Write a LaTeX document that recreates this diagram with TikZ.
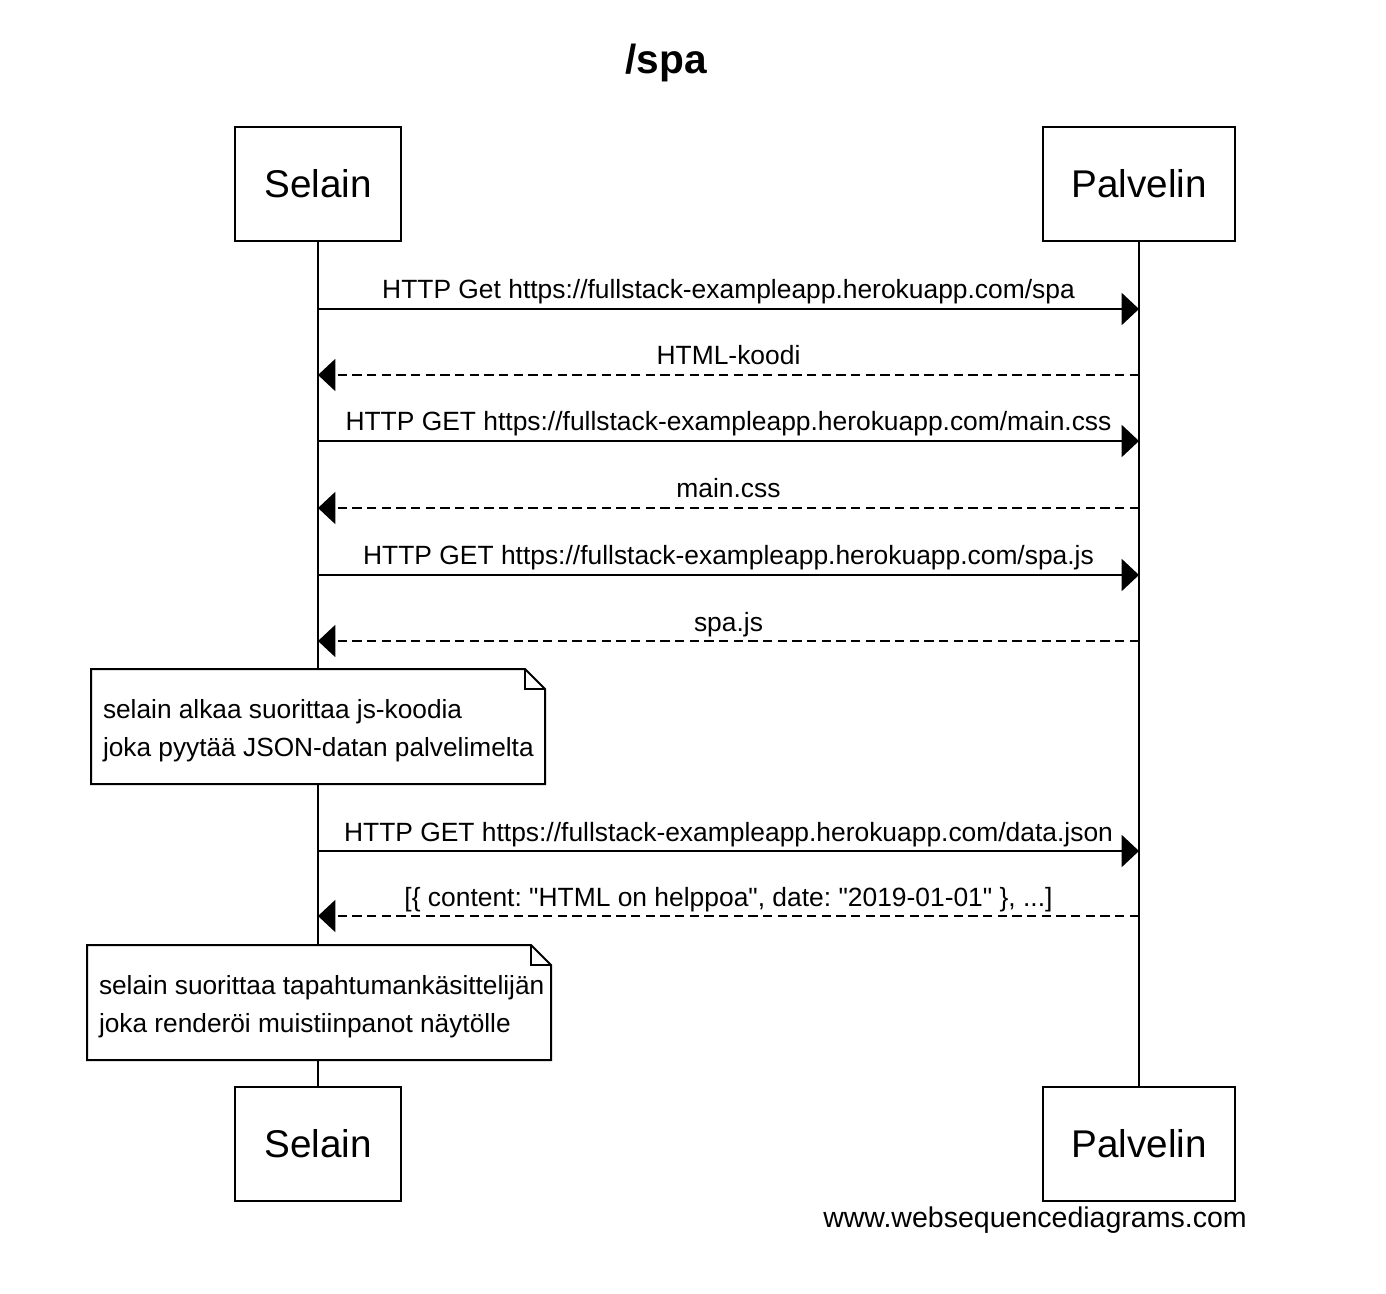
\documentclass[tikz,border=0pt]{standalone}
\usepackage{fontspec}
\setmainfont{Liberation Sans}[Ligatures=TeXOff]
\usetikzlibrary{arrows.meta,positioning}
\frenchspacing

\begin{document}
\begin{tikzpicture}[x=0.75pt,y=-0.75pt,line width=1.5pt,
  actor/.style={draw,fill=white,minimum height=85.5pt,font=\fontsize{29}{34}\selectfont},
  msg/.style={-{Triangle[length=13pt,width=24pt]}},
  reply/.style={msg,dash pattern=on 7pt off 4pt},
  lbl/.style={anchor=base,yshift=7.5pt,font=\fontsize{19.8}{24}\selectfont},
  note/.style={draw,fill=white,line join=miter},
  notetext/.style={anchor=west,align=left,inner sep=0pt,font=\fontsize{19.7}{28.5}\selectfont}]
  \fill[white] (0,0) rectangle (1386,1294);
  \useasboundingbox (0,0) rectangle (1386,1294);
  % title
  \node[font=\bfseries\fontsize{30.5}{36}\selectfont] (title) at (666,63) {/spa};
  % actors and lifelines
  \node[actor,minimum width=124.5pt] (selainTop) at (318,184) {Selain};
  \node[actor,minimum width=144pt] (palvelinTop) at (1139,184) {Palvelin};
  \node[actor,minimum width=124.5pt] (selainBot) at (318,1144) {Selain};
  \node[actor,minimum width=144pt] (palvelinBot) at (1139,1144) {Palvelin};
  \draw (selainTop) -- (selainBot);
  \draw (palvelinTop) -- (palvelinBot);
  \foreach \n/\y in {1/309,2/375,3/441,4/508,5/575,6/641,7/851,8/916}{
    \coordinate (s\n) at (318,\y); \coordinate (p\n) at (1139,\y);
  }
  % messages
  \draw[msg] (s1) -- (p1) node[lbl,midway] {HTTP Get https://fullstack-exampleapp.herokuapp.com/spa};
  \draw[reply] (p2) -- (s2) node[lbl,midway] {HTML-koodi};
  \draw[msg] (s3) -- (p3) node[lbl,midway] {HTTP GET https://fullstack-exampleapp.herokuapp.com/main.css};
  \draw[reply] (p4) -- (s4) node[lbl,midway] {main.css};
  \draw[msg] (s5) -- (p5) node[lbl,midway] {HTTP GET https://fullstack-exampleapp.herokuapp.com/spa.js};
  \draw[reply] (p6) -- (s6) node[lbl,midway] {spa.js};
  \draw[msg] (s7) -- (p7) node[lbl,midway] {HTTP GET https://fullstack-exampleapp.herokuapp.com/data.json};
  \draw[reply] (p8) -- (s8) node[lbl,midway] {[\{ content: "HTML on helppoa", date: "2019-01-01" \}, ...]};
  % notes
  \draw[note] (91,669) -- (525,669) -- (545,689) -- (545,784) -- (91,784) -- cycle;
  \draw[line width=1pt] (525,669) |- (545,689);
  \node[notetext] (note1) at (102,731) {selain alkaa suorittaa js-koodia\\joka pyytää JSON-datan palvelimelta};
  \draw[note] (87,945) -- (531,945) -- (551,965) -- (551,1060) -- (87,1060) -- cycle;
  \draw[line width=1pt] (531,945) |- (551,965);
  \node[notetext] (note2) at (98,1007) {selain suorittaa tapahtumankäsittelijän\\joka renderöi muistiinpanot näytölle};
  % footer
  \node[font=\fontsize{21.4}{25}\selectfont] (site) at (1035,1220) {www.websequencediagrams.com};
\end{tikzpicture}
\end{document}
